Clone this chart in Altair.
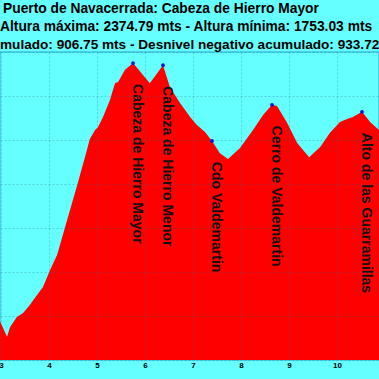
import altair as alt
import pandas as pd

# Elevation profile (km, metres)
km = [2.979, 3.125, 3.19, 3.33, 3.46, 3.60, 3.75, 3.875, 4.02, 4.17, 4.33, 4.60,
      4.79, 4.85, 4.96, 5.02, 5.125, 5.27, 5.375, 5.44, 5.58, 5.75, 6.10, 6.375,
      6.52, 6.73, 6.94, 7.08, 7.25, 7.396, 7.56, 7.73, 7.98, 8.25, 8.46, 8.646,
      8.75, 8.96, 9.17, 9.42, 9.65, 9.85, 10.06, 10.21, 10.33, 10.521, 10.69, 10.875]
elev = [1788, 1753.03, 1775, 1798, 1807, 1825, 1848, 1866, 1904, 1939, 2000, 2102,
        2177, 2202, 2223, 2229, 2252, 2291, 2329, 2332, 2359, 2374.79, 2329, 2370,
        2320, 2284, 2252, 2234, 2218, 2198, 2170, 2157, 2182, 2223, 2257, 2280,
        2277, 2239, 2193, 2161, 2184, 2216, 2241, 2248, 2252, 2264, 2241, 2223]

peak_names = ["Cabeza de Hierro Mayor", "Cabeza de Hierro Menor", "Cdo Valdemartin",
              "Cerro de Valdemartin", "Alto de las Guarramillas"]
peak_km = [5.75, 6.375, 7.396, 8.646, 10.521]
peak_elev = [2374.79, 2370, 2198, 2280, 2264]

x_ticks = [3, 4, 5, 6, 7, 8, 9, 10]
y_grid = [1700, 1800, 1900, 2000, 2100, 2200, 2300, 2400]

title_lines = [
    "Puerto de Navacerrada: Cabeza de Hierro Mayor",
    "Altura máxima: 2374.79 mts - Altura mínima: 1753.03 mts",
    "Desnivel positivo acumulado: 906.75 mts - Desnivel negativo acumulado: 933.72 mts",
]

prof = pd.DataFrame({"km": km, "elev": elev})
peaks = pd.DataFrame({"name": peak_names, "km": peak_km, "elev": peak_elev})

FONT = "Liberation Sans"
GRID = "#1f6f88"

xs = alt.Scale(domain=[2.979, 10.875], nice=False, zero=False)
ys = alt.Scale(domain=[1700, 2400], nice=False, zero=False)

xaxis = alt.Axis(values=x_ticks, format="d", labelFontSize=8, labelFontWeight="bold",
                 labelColor="black", labelFont=FONT, ticks=False, domain=False,
                 grid=True, gridColor=GRID, gridDash=[2, 2], gridOpacity=0.3,
                 labelPadding=1, zindex=1, title=None, labelFlush=False)
yaxis = alt.Axis(values=y_grid, labels=False, ticks=False, domain=False, grid=True,
                 gridColor=GRID, gridDash=[2, 2], gridOpacity=0.3, title=None, zindex=1)

area = alt.Chart(prof).mark_area(color="#FF0000", opacity=1, clip=True).encode(
    x=alt.X("km:Q", scale=xs, axis=xaxis),
    y=alt.Y("elev:Q", scale=ys, axis=yaxis),
)

dots = alt.Chart(peaks).mark_circle(color="#1010CC", size=14, opacity=1).encode(
    x=alt.X("km:Q", scale=xs), y=alt.Y("elev:Q", scale=ys)
)

labels = alt.Chart(peaks).mark_text(
    angle=90, align="left", baseline="middle", dx=21, dy=-4,
    fontSize=14, fontWeight="bold", font=FONT, color="#111111"
).encode(x=alt.X("km:Q", scale=xs), y=alt.Y("elev:Q", scale=ys), text="name:N")

def title_layer(line, xpos, ypos, size):
    return alt.Chart(pd.DataFrame({"t": [line]})).mark_text(
        align="left", baseline="alphabetic", fontSize=size, fontWeight="bold",
        font=FONT, color="black"
    ).encode(text="t:N", x=alt.value(xpos), y=alt.value(ypos))

t1 = title_layer(title_lines[0], 3, -39, 13.8)
t2 = title_layer(title_lines[1], 0, -21, 13.8)
t3 = title_layer(title_lines[2], -139, -3, 13.6)

chart = alt.layer(area, dots, labels, t1, t2, t3).properties(
    width=379, height=308,
    autosize=alt.AutoSizeParams(type="none"),
    padding={"top": 52, "left": 0, "right": 0, "bottom": 19},
    background="#66FFFF",
).configure_view(stroke="#3cc4e6", strokeWidth=1.5, fill="#66FFFF")

chart.save("out.html", embed_options={"renderer": "svg", "actions": False})
